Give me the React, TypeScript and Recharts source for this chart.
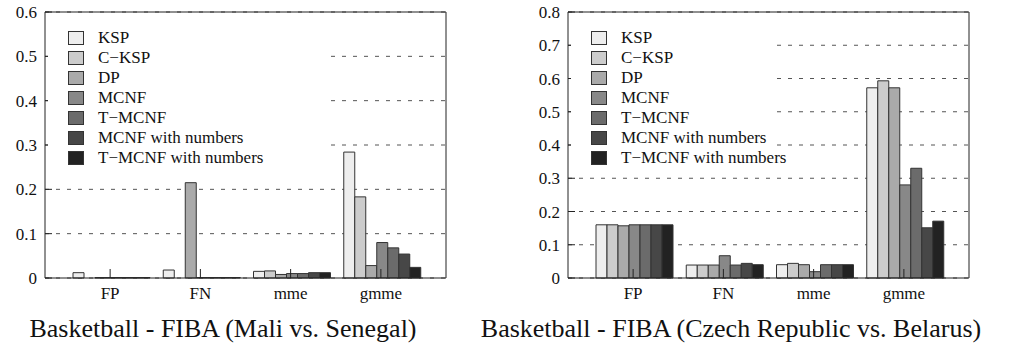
import React from 'react';
import { BarChart, Bar, XAxis, YAxis, CartesianGrid, Legend } from 'recharts';

const categories = ['FP', 'FN', 'mme', 'gmme'];
const seriesNames = ['KSP', 'C\u2212KSP', 'DP', 'MCNF', 'T\u2212MCNF', 'MCNF with numbers', 'T\u2212MCNF with numbers'];
const seriesColors = ['#eeeeee', '#cccccc', '#aaaaaa', '#888888', '#6b6b6b', '#474747', '#222222'];

// Basketball - FIBA (Mali vs. Senegal)
const maliKSP = [0.012, 0.018, 0.015, 0.284];
const maliCKSP = [0, 0, 0.016, 0.183];
const maliDP = [0.001, 0.215, 0.008, 0.028];
const maliMCNF = [0.001, 0.001, 0.01, 0.08];
const maliTMCNF = [0.001, 0.001, 0.01, 0.068];
const maliMCNFNum = [0.001, 0.001, 0.012, 0.054];
const maliTMCNFNum = [0.001, 0.001, 0.012, 0.024];

// Basketball - FIBA (Czech Republic vs. Belarus)
const czeKSP = [0.16, 0.039, 0.04, 0.572];
const czeCKSP = [0.16, 0.039, 0.044, 0.593];
const czeDP = [0.157, 0.039, 0.04, 0.572];
const czeMCNF = [0.16, 0.067, 0.019, 0.28];
const czeTMCNF = [0.16, 0.039, 0.04, 0.33];
const czeMCNFNum = [0.16, 0.044, 0.04, 0.151];
const czeTMCNFNum = [0.16, 0.04, 0.04, 0.171];

const maliTicks = [0, 0.1, 0.2, 0.3, 0.4, 0.5, 0.6];
const czeTicks = [0, 0.1, 0.2, 0.3, 0.4, 0.5, 0.6, 0.7, 0.8];

const maliTitle = 'Basketball - FIBA (Mali vs. Senegal)';
const czeTitle = 'Basketball - FIBA (Czech Republic vs. Belarus)';

const FONT = 'Liberation Serif';

function buildRows(series: number[][]) {
  return categories.map((cat, i) => {
    const row: any = { cat };
    series.forEach((s, k) => {
      row['s' + k] = s[i];
    });
    return row;
  });
}

const maliRows = buildRows([maliKSP, maliCKSP, maliDP, maliMCNF, maliTMCNF, maliMCNFNum, maliTMCNFNum]);
const czeRows = buildRows([czeKSP, czeCKSP, czeDP, czeMCNF, czeTMCNF, czeMCNFNum, czeTMCNFNum]);

const LegendBox = () => {
  return (
    <div style={{ position: 'relative', width: '100%', height: '100%' }}>
      {seriesNames.map((name, i) => (
        <div
          key={name}
          style={{
            position: 'absolute',
            left: 20,
            top: 8 + i * 20,
            height: 16,
            display: 'flex',
            alignItems: 'center',
            whiteSpace: 'nowrap',
          }}
        >
          <div
            style={{
              width: 16,
              height: 14,
              background: seriesColors[i],
              border: '1px solid #333',
              boxSizing: 'border-box',
              marginRight: 14,
            }}
          />
          <span style={{ fontFamily: FONT, fontSize: 17, color: '#111', lineHeight: '16px' }}>{name}</span>
        </div>
      ))}
    </div>
  );
};

const tickStyle = { fontFamily: FONT, fontSize: 17, fill: '#111' };

function Panel(props: {
  rows: any[];
  ticks: number[];
  max: number;
  left: number;
  width: number;
  yWidth: number;
  rightW: number;
  legendLeft: number;
  legendWidth: number;
  title: string;
  titleCenter: number;
}) {
  const { rows, ticks, max, left, width, yWidth, rightW, legendLeft, legendWidth, title, titleCenter } = props;
  return (
    <>
      <div style={{ position: 'absolute', left, top: 0, fontFamily: FONT }}>
        <BarChart
          width={width}
          height={347}
          data={rows}
          margin={{ top: 0, right: 0, bottom: 39, left: 0 }}
          barCategoryGap={8}
          barGap={0}
          style={{ fontFamily: FONT }}
        >
          <CartesianGrid
            xAxisId="b"
            yAxisId="l"
            vertical={false}
            stroke="#555"
            strokeDasharray="4 7"
          />
          <XAxis
            xAxisId="b"
            dataKey="cat"
            type="category"
            height={30}
            padding={{ left: 20, right: 20 }}
            axisLine={{ stroke: '#222', strokeWidth: 1 }}
            tickLine={{ stroke: '#222' }}
            tickSize={-9}
            tickMargin={18}
            tick={tickStyle}
            interval={0}
          />
          <XAxis
            xAxisId="t"
            dataKey="cat"
            type="category"
            orientation="top"
            height={12}
            padding={{ left: 20, right: 20 }}
            axisLine={{ stroke: '#222', strokeWidth: 1 }}
            tickLine={{ stroke: '#222' }}
            tickSize={-8}
            tick={false}
            interval={0}
          />
          <YAxis
            yAxisId="l"
            type="number"
            domain={[0, max]}
            ticks={ticks}
            width={yWidth}
            axisLine={{ stroke: '#222', strokeWidth: 1 }}
            tickLine={{ stroke: '#222' }}
            tickSize={-7}
            tickMargin={15}
            tick={tickStyle}
            tickFormatter={(v: number) => String(v)}
            interval={0}
          />
          <YAxis
            yAxisId="r"
            orientation="right"
            type="number"
            domain={[0, max]}
            ticks={ticks}
            width={rightW}
            axisLine={{ stroke: '#222', strokeWidth: 1 }}
            tickLine={{ stroke: '#222' }}
            tickSize={-7}
            tick={false}
            interval={0}
          />
          <Legend
            layout="vertical"
            align="center"
            verticalAlign="middle"
            content={<LegendBox />}
            wrapperStyle={{ left: legendLeft, top: 22, width: legendWidth, height: 128, background: '#fff' }}
          />
          {seriesNames.map((name, k) => (
            <Bar
              key={name}
              xAxisId="b"
              yAxisId="l"
              dataKey={'s' + k}
              name={name}
              fill={seriesColors[k]}
              stroke="#333"
              strokeWidth={1}
              isAnimationActive={false}
            />
          ))}
        </BarChart>
      </div>
      <div
        style={{
          position: 'absolute',
          left: titleCenter - 300,
          width: 600,
          top: 314,
          textAlign: 'center',
          fontFamily: FONT,
          fontSize: 26,
          color: '#111',
          whiteSpace: 'nowrap',
          lineHeight: '30px',
        }}
      >
        {title}
      </div>
    </>
  );
}

export default function App() {
  return (
    <div style={{ position: 'absolute', left: 0, top: 0, width: 1012, height: 347, background: '#fff', overflow: 'hidden', fontFamily: FONT }}>
      <Panel
        rows={maliRows}
        ticks={maliTicks}
        max={0.6}
        left={0}
        width={460}
        yWidth={45}
        rightW={14}
        legendLeft={48}
        legendWidth={277}
        title={maliTitle}
        titleCenter={223}
      />
      <Panel
        rows={czeRows}
        ticks={czeTicks}
        max={0.8}
        left={500}
        width={480}
        yWidth={68}
        rightW={11}
        legendLeft={71}
        legendWidth={199}
        title={czeTitle}
        titleCenter={731}
      />
    </div>
  );
}
